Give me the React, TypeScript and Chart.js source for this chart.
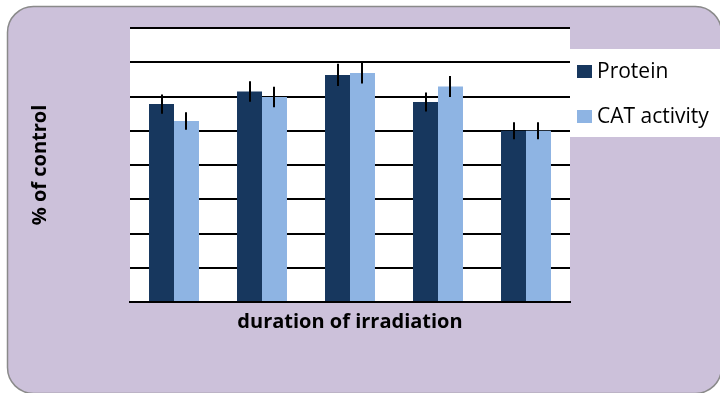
import React, { useEffect, useRef } from "react";
import { Chart, registerables } from "chart.js";

Chart.register(...registerables);

const categories = ["D1", "D2", "D3", "D4", "D5"];
const seriesNames = ["Protein", "CAT activity"];
const proteinValues = [115.6, 122.9, 132.6, 116.8, 100];
const catValues = [105.7, 119.7, 133.7, 125.8, 100];
const proteinErrors = [5.6, 6.0, 6.5, 5.6, 5.0];
const catErrors = [5.1, 6.0, 6.1, 6.1, 5.0];
const yMin = 0;
const yMax = 160;
const yStep = 20;

const PROTEIN_COLOR = "#17375E";
const CAT_COLOR = "#8EB4E3";
const BG_COLOR = "#CCC1DA";
const FONT = "'Open Sans', sans-serif";
const TITLE_SIZE = 20;
const LEGEND_SIZE = 21;

const backgroundPlugin = {
  id: "bgPanel",
  beforeDraw(chart: any) {
    const { ctx, chartArea } = chart;
    ctx.save();
    ctx.fillStyle = "#ffffff";
    ctx.fillRect(0, 0, chart.width, chart.height);
    ctx.beginPath();
    (ctx as any).roundRect(7.5, 6.5, 714, 387, 26);
    ctx.fillStyle = BG_COLOR;
    ctx.fill();
    ctx.lineWidth = 1.5;
    ctx.strokeStyle = "#8a8a8a";
    ctx.stroke();
    ctx.fillStyle = "#ffffff";
    ctx.fillRect(chartArea.left, chartArea.top, chartArea.right - chartArea.left, chartArea.bottom - chartArea.top);
    ctx.restore();
  },
};

const errorBarPlugin = {
  id: "errorBars",
  afterDatasetsDraw(chart: any) {
    const { ctx } = chart;
    const yScale = chart.scales.y;
    const errs = [proteinErrors, catErrors];
    ctx.save();
    ctx.strokeStyle = "#000000";
    ctx.lineWidth = 2;
    chart.data.datasets.forEach((ds: any, di: number) => {
      const meta = chart.getDatasetMeta(di);
      meta.data.forEach((el: any, i: number) => {
        const v = ds.data[i];
        const e = errs[di][i];
        const y1 = yScale.getPixelForValue(v + e);
        const y2 = yScale.getPixelForValue(v - e);
        const x = Math.round(el.x);
        ctx.beginPath();
        ctx.moveTo(x, y1);
        ctx.lineTo(x, y2);
        ctx.stroke();
      });
    });
    ctx.restore();
  },
};

const legendPlugin = {
  id: "customLegend",
  afterDraw(chart: any) {
    const { ctx, chartArea } = chart;
    const left = chartArea.right;
    ctx.save();
    ctx.fillStyle = "#ffffff";
    ctx.fillRect(left, 49, chart.width - left, 88);
    ctx.font = `${LEGEND_SIZE}px ${FONT}`;
    ctx.textBaseline = "alphabetic";
    ctx.textAlign = "left";
    const baselines = [78, 123];
    chart.data.datasets.forEach((ds: any, i: number) => {
      const by = baselines[i];
      ctx.fillStyle = ds.backgroundColor;
      ctx.fillRect(left + 7, by - 13, 15, 13);
      ctx.fillStyle = "#000000";
      ctx.fillText(ds.label, left + 27, by);
    });
    ctx.restore();
  },
};

export default function App() {
  const canvasRef = useRef<HTMLCanvasElement | null>(null);

  useEffect(() => {
    document.body.style.margin = "0";
    const canvas = canvasRef.current;
    if (!canvas) return;
    const chart = new Chart(canvas, {
      type: "bar",
      data: {
        labels: categories,
        datasets: [
          {
            label: seriesNames[0],
            data: proteinValues,
            backgroundColor: PROTEIN_COLOR,
            borderWidth: 0,
          },
          {
            label: seriesNames[1],
            data: catValues,
            backgroundColor: CAT_COLOR,
            borderWidth: 0,
          },
        ],
      },
      options: {
        responsive: false,
        animation: false,
        devicePixelRatio: 1,
        layout: { padding: { left: 20, right: 150, top: 28, bottom: 59 } },
        datasets: {
          bar: { categoryPercentage: 0.568, barPercentage: 1.0 },
        },
        plugins: {
          legend: { display: false },
          tooltip: { enabled: false },
        },
        scales: {
          x: {
            grid: { display: false, drawTicks: false },
            border: { display: true, color: "#000000", width: 2 },
            ticks: { display: false },
            title: {
              display: true,
              text: "duration of irradiation",
              color: "#000000",
              font: { family: FONT, size: TITLE_SIZE, weight: "bold", lineHeight: 1.2 },
              padding: { top: 8, bottom: 0 },
            },
          },
          y: {
            min: yMin,
            max: yMax,
            grid: { color: "#000000", lineWidth: 2, drawTicks: false },
            border: { display: false },
            ticks: { display: false, stepSize: yStep },
            title: {
              display: true,
              text: "% of control",
              color: "#000000",
              font: { family: FONT, size: TITLE_SIZE, weight: "bold", lineHeight: 1.2 },
              padding: { top: 8, bottom: 78 },
            },
          },
        },
      },
      plugins: [backgroundPlugin, errorBarPlugin, legendPlugin],
    });
    return () => chart.destroy();
  }, []);

  return (
    <canvas
      ref={canvasRef}
      width={720}
      height={393}
      style={{ display: "block", width: 720, height: 393 }}
    />
  );
}
